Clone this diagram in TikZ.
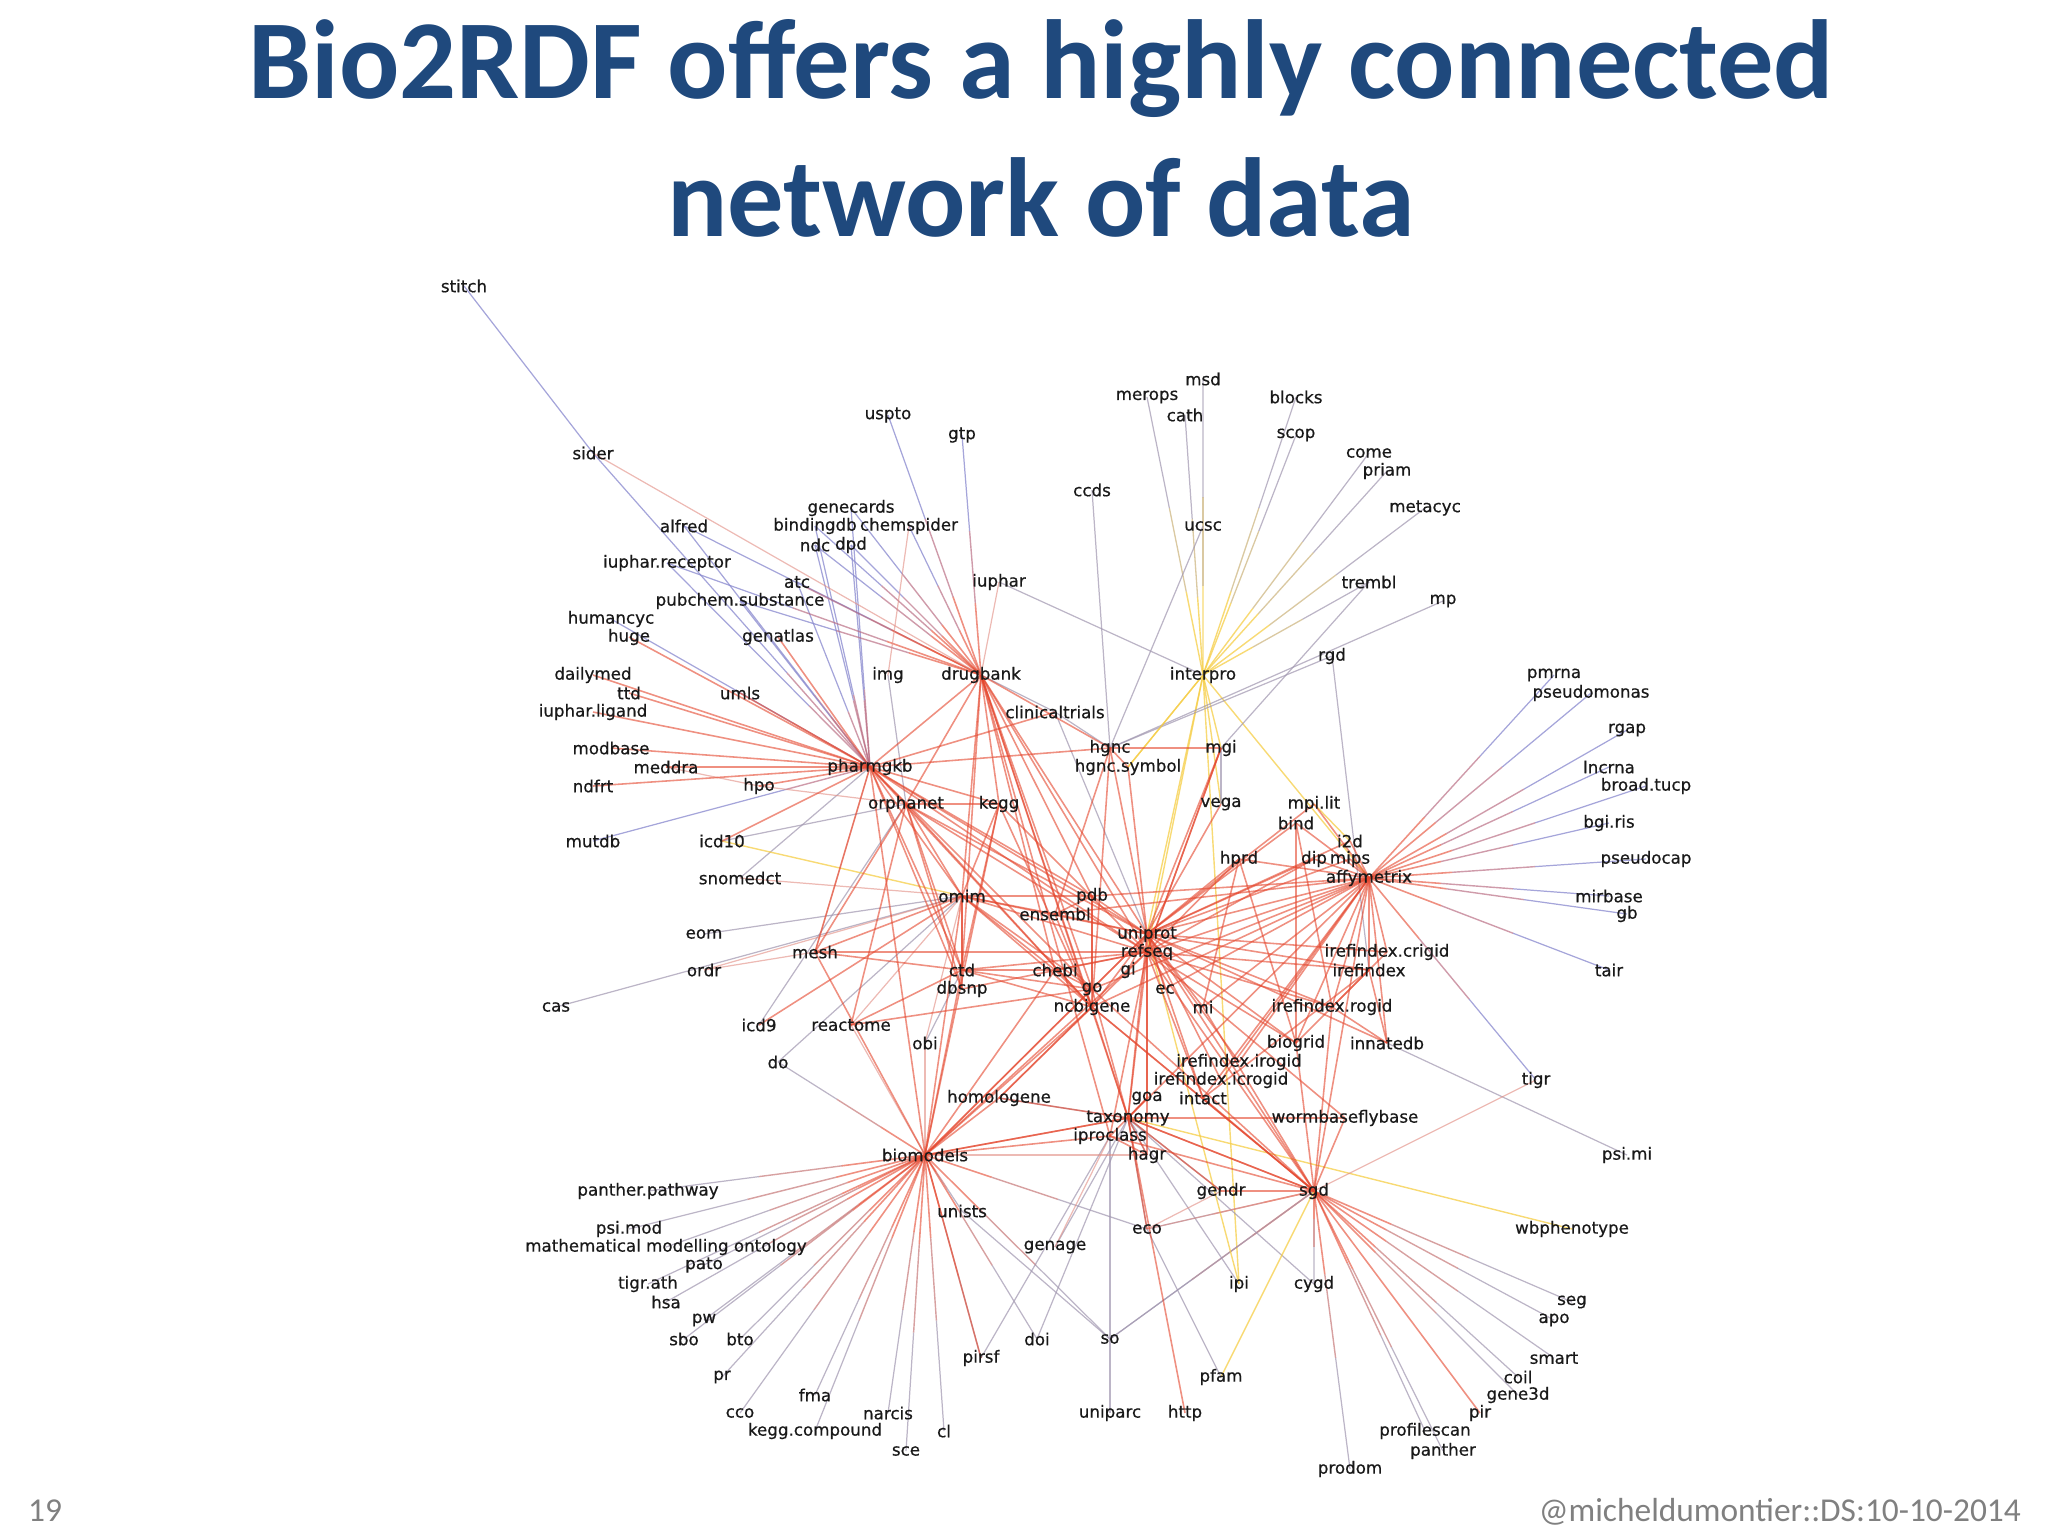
\documentclass[tikz,border=0pt]{standalone}
\usepackage{fontspec}
\newfontfamily\lblfont{DejaVu Sans}[FakeBold=0.6]
\newfontfamily\titlefont{Carlito}
\usetikzlibrary{positioning, calc}
\pgfdeclarelayer{bg}
\pgfsetlayers{bg,main}
\definecolor{titleblue}{RGB}{31,73,125}
\definecolor{edgered}{RGB}{228,70,45}
\definecolor{edgepink}{RGB}{225,140,130}
\definecolor{edgeblue}{RGB}{135,135,205}
\definecolor{edgegray}{RGB}{160,150,175}
\definecolor{edgeyel}{RGB}{245,205,70}
\definecolor{edgeredgray}{RGB}{194,110,110}
\definecolor{edgeredblue}{RGB}{182,102,125}
\definecolor{edgeyelgray}{RGB}{203,178,122}
% hub to leaf, fading from the hub colour to the leaf colour
\newcommand{\hubedge}[5]{%
    \draw[#3] (#1.center) -- ($(#1.center)!0.3!(#2.center)$);
    \draw[#4] ($(#1.center)!0.3!(#2.center)$) -- ($(#1.center)!0.6!(#2.center)$);
    \draw[#5] ($(#1.center)!0.6!(#2.center)$) -- (#2.center);}

\begin{document}
\begin{tikzpicture}[
    x=0.02cm, y=-0.02cm,
    lbl/.style={font=\lblfont\fontsize{9.5}{10}\selectfont, inner sep=0pt, text=black!90},
    redE/.style={draw=edgered, line width=0.9pt, opacity=0.6},
    pinkE/.style={draw=edgepink, line width=0.7pt, opacity=0.6},
    blueE/.style={draw=edgeblue, line width=0.7pt, opacity=0.75},
    grayE/.style={draw=edgegray, line width=0.7pt, opacity=0.7},
    yelE/.style={draw=edgeyel, line width=0.8pt, opacity=0.75},
    redgrayE/.style={draw=edgeredgray, line width=0.8pt, opacity=0.65},
    redblueE/.style={draw=edgeredblue, line width=0.8pt, opacity=0.65},
    yelgrayE/.style={draw=edgeyelgray, line width=0.75pt, opacity=0.7}
]
    \useasboundingbox (0,0) rectangle (2048,1536);

    % title and footer
    \node[font=\titlefont\bfseries\fontsize{64}{70}\selectfont, text=titleblue, anchor=base] (title1) at (1041,98) {Bio2RDF offers a highly connected};
    \node[font=\titlefont\bfseries\fontsize{64}{70}\selectfont, text=titleblue, anchor=base] (title2) at (1041,236) {network of data};
    \node[font=\titlefont\fontsize{19}{21}\selectfont, text=black!50, anchor=base west] (pagenum) at (22,1521) {19};
    \node[font=\titlefont\fontsize{19}{21}\selectfont, text=black!50, anchor=base east] (credit) at (2027,1521) {@micheldumontier::DS:10-10-2014};

    % top left
    \node[lbl] (stitch) at (464,286) {stitch};
    \node[lbl] (sider) at (593,453) {sider};
    \node[lbl] (alfred) at (684,526) {alfred};
    \node[lbl] (genecards) at (851,508) {genecards};
    \node[lbl] (bindingdb) at (815,526) {bindingdb};
    \node[lbl] (chemspider) at (909,526) {chemspider};
    \node[lbl] (ndc) at (815,545) {ndc};
    \node[lbl] (dpd) at (851,545) {dpd};
    \node[lbl] (uspto) at (888,415) {uspto};
    \node[lbl] (gtp) at (962,435) {gtp};
    \node[lbl] (iupharrec) at (667,563) {iuphar.receptor};
    \node[lbl] (atc) at (797,582) {atc};
    \node[lbl] (iuphar) at (999,582) {iuphar};
    \node[lbl] (pubchem) at (740,601) {pubchem.substance};
    \node[lbl] (humancyc) at (611,619) {humancyc};
    \node[lbl] (huge) at (629,637) {huge};
    \node[lbl] (genatlas) at (778,637) {genatlas};
    \node[lbl] (dailymed) at (593,675) {dailymed};
    \node[lbl] (ttd) at (629,693) {ttd};
    \node[lbl] (iupharlig) at (593,712) {iuphar.ligand};
    \node[lbl] (umls) at (740,693) {umls};
    \node[lbl] (img) at (888,675) {img};
    \node[lbl] (drugbank) at (981,675) {drugbank};
    \node[lbl] (clinical) at (1055,712) {clinicaltrials};
    \node[lbl] (modbase) at (611,748) {modbase};
    \node[lbl] (meddra) at (666,767) {meddra};
    \node[lbl] (pharmgkb) at (870,767) {pharmgkb};
    \node[lbl] (ndfrt) at (593,786) {ndfrt};
    \node[lbl] (hpo) at (759,786) {hpo};
    \node[lbl] (mutdb) at (593,841) {mutdb};
    \node[lbl] (icdten) at (722,841) {icd10};
    \node[lbl] (snomedct) at (740,878) {snomedct};
    \node[lbl] (eom) at (704,934) {eom};
    \node[lbl] (mesh) at (815,952) {mesh};
    \node[lbl] (ordr) at (704,970) {ordr};
    \node[lbl] (cas) at (556,1007) {cas};
    \node[lbl] (icdnine) at (759,1025) {icd9};
    \node[lbl] (reactome) at (851,1025) {reactome};
    \node[lbl] (do) at (778,1062) {do};

    % top centre
    \node[lbl] (msd) at (1203,379) {msd};
    \node[lbl] (merops) at (1147,397) {merops};
    \node[lbl] (blocks) at (1296,397) {blocks};
    \node[lbl] (cath) at (1185,415) {cath};
    \node[lbl] (scop) at (1296,435) {scop};
    \node[lbl] (come) at (1369,453) {come};
    \node[lbl] (priam) at (1387,471) {priam};
    \node[lbl] (ccds) at (1092,490) {ccds};
    \node[lbl] (metacyc) at (1425,508) {metacyc};
    \node[lbl] (ucsc) at (1203,526) {ucsc};
    \node[lbl] (trembl) at (1369,582) {trembl};
    \node[lbl] (mp) at (1443,601) {mp};
    \node[lbl] (rgd) at (1332,656) {rgd};
    \node[lbl] (interpro) at (1203,675) {interpro};

    % centre
    \node[lbl] (hgnc) at (1110,748) {hgnc};
    \node[lbl] (hgncsym) at (1128,767) {hgnc.symbol};
    \node[lbl] (mgi) at (1221,748) {mgi};
    \node[lbl] (orphanet) at (906,804) {orphanet};
    \node[lbl] (kegg) at (999,804) {kegg};
    \node[lbl] (vega) at (1221,804) {vega};
    \node[lbl] (mpilit) at (1314,804) {mpi.lit};
    \node[lbl] (bind) at (1296,823) {bind};
    \node[lbl] (itwod) at (1350,841) {i2d};
    \node[lbl] (hprd) at (1239,859) {hprd};
    \node[lbl] (dip) at (1314,859) {dip};
    \node[lbl] (mips) at (1350,859) {mips};
    \node[lbl] (affy) at (1369,878) {affymetrix};
    \node[lbl] (omim) at (962,896) {omim};
    \node[lbl] (pdb) at (1092,896) {pdb};
    \node[lbl] (ensembl) at (1055,914) {ensembl};
    \node[lbl] (uniprot) at (1147,934) {uniprot};
    \node[lbl] (refseq) at (1147,952) {refseq};
    \node[lbl] (refcrigid) at (1387,952) {irefindex.crigid};
    \node[lbl] (irefindex) at (1369,970) {irefindex};
    \node[lbl] (ctd) at (962,970) {ctd};
    \node[lbl] (chebi) at (1055,970) {chebi};
    \node[lbl] (gi) at (1128,970) {gi};
    \node[lbl] (go) at (1092,989) {go};
    \node[lbl] (ec) at (1165,989) {ec};
    \node[lbl] (dbsnp) at (962,989) {dbsnp};
    \node[lbl] (ncbigene) at (1092,1007) {ncbigene};
    \node[lbl] (mi) at (1203,1007) {mi};
    \node[lbl] (refrogid) at (1332,1007) {irefindex.rogid};
    \node[lbl] (obi) at (925,1043) {obi};
    \node[lbl] (biogrid) at (1296,1043) {biogrid};
    \node[lbl] (innatedb) at (1387,1043) {innatedb};
    \node[lbl] (refirogid) at (1239,1062) {irefindex.irogid};
    \node[lbl] (reficrogid) at (1221,1080) {irefindex.icrogid};
    \node[lbl] (homologene) at (999,1098) {homologene};
    \node[lbl] (goa) at (1147,1098) {goa};
    \node[lbl] (intact) at (1203,1098) {intact};
    \node[lbl] (taxonomy) at (1128,1118) {taxonomy};
    \node[lbl] (wormfly) at (1345,1118) {wormbaseflybase};
    \node[lbl] (iproclass) at (1110,1136) {iproclass};
    \node[lbl] (biomodels) at (925,1155) {biomodels};
    \node[lbl] (hagr) at (1147,1155) {hagr};

    % right
    \node[lbl] (pmrna) at (1554,675) {pmrna};
    \node[lbl] (pseudomonas) at (1591,693) {pseudomonas};
    \node[lbl] (rgap) at (1627,730) {rgap};
    \node[lbl] (lncrna) at (1609,767) {lncrna};
    \node[lbl] (broadtucp) at (1646,786) {broad.tucp};
    \node[lbl] (bgiris) at (1609,823) {bgi.ris};
    \node[lbl] (pseudocap) at (1646,859) {pseudocap};
    \node[lbl] (mirbase) at (1609,896) {mirbase};
    \node[lbl] (gb) at (1627,914) {gb};
    \node[lbl] (tair) at (1609,970) {tair};
    \node[lbl] (tigr) at (1536,1080) {tigr};
    \node[lbl] (psimi) at (1627,1155) {psi.mi};
    \node[lbl] (wbpheno) at (1572,1229) {wbphenotype};

    % bottom
    \node[lbl] (pantherpw) at (648,1191) {panther.pathway};
    \node[lbl] (gendr) at (1221,1191) {gendr};
    \node[lbl] (sgd) at (1314,1191) {sgd};
    \node[lbl] (unists) at (962,1211) {unists};
    \node[lbl] (psimod) at (629,1229) {psi.mod};
    \node[lbl] (eco) at (1147,1229) {eco};
    \node[lbl] (mmo) at (666,1247) {mathematical modelling ontology};
    \node[lbl] (genage) at (1055,1247) {genage};
    \node[lbl] (pato) at (704,1265) {pato};
    \node[lbl] (tigrath) at (648,1284) {tigr.ath};
    \node[lbl] (ipi) at (1239,1284) {ipi};
    \node[lbl] (cygd) at (1314,1284) {cygd};
    \node[lbl] (hsa) at (666,1302) {hsa};
    \node[lbl] (seg) at (1572,1302) {seg};
    \node[lbl] (pw) at (704,1320) {pw};
    \node[lbl] (apo) at (1554,1320) {apo};
    \node[lbl] (sbo) at (684,1339) {sbo};
    \node[lbl] (bto) at (740,1339) {bto};
    \node[lbl] (doi) at (1037,1339) {doi};
    \node[lbl] (so) at (1110,1339) {so};
    \node[lbl] (pirsf) at (981,1358) {pirsf};
    \node[lbl] (smart) at (1554,1358) {smart};
    \node[lbl] (pr) at (722,1377) {pr};
    \node[lbl] (pfam) at (1221,1377) {pfam};
    \node[lbl] (coil) at (1518,1377) {coil};
    \node[lbl] (fma) at (815,1395) {fma};
    \node[lbl] (genethreed) at (1518,1395) {gene3d};
    \node[lbl] (cco) at (740,1413) {cco};
    \node[lbl] (narcis) at (888,1413) {narcis};
    \node[lbl] (uniparc) at (1110,1413) {uniparc};
    \node[lbl] (http) at (1185,1413) {http};
    \node[lbl] (pir) at (1480,1413) {pir};
    \node[lbl] (keggcpd) at (815,1431) {kegg.compound};
    \node[lbl] (cl) at (944,1431) {cl};
    \node[lbl] (profilescan) at (1425,1431) {profilescan};
    \node[lbl] (sce) at (906,1451) {sce};
    \node[lbl] (panther) at (1443,1451) {panther};
    \node[lbl] (prodom) at (1350,1469) {prodom};

    \begin{pgfonlayer}{bg}
    % light edges
    \draw[blueE] (stitch.center) -- (sider.center);
    \foreach \t in {sider,alfred,iupharrec,pubchem,atc,ndc,bindingdb,genecards,dpd,mutdb,humancyc}
        {\hubedge{pharmgkb}{\t}{redblueE}{blueE}{blueE}}
    \foreach \t in {uspto,gtp,genecards,bindingdb,chemspider,ndc,dpd,atc,pubchem,iupharrec,alfred}
        {\hubedge{drugbank}{\t}{redE}{redblueE}{blueE}}
    \foreach \t in {msd,merops,cath,blocks,scop,come,priam,metacyc,trembl}
        {\hubedge{interpro}{\t}{yelE}{yelgrayE}{grayE}}
    \foreach \t in {uniprot,refseq,hgncsym,ipi,vega,mgi,affy}
        \draw[yelE] (interpro.center) -- (\t.center);
    \foreach \t in {pmrna,pseudomonas,rgap,lncrna,broadtucp,bgiris,pseudocap,mirbase,gb,tair,tigr}
        {\hubedge{affy}{\t}{redE}{redblueE}{blueE}}
    \foreach \t in {pantherpw,psimod,mmo,pato,tigrath,hsa,pw,sbo,bto,pr,fma,cco,keggcpd,narcis,sce,cl,pirsf,doi,unists,so,do,eco}
        {\hubedge{biomodels}{\t}{redE}{redgrayE}{grayE}}
    \foreach \t in {seg,apo,smart,coil,genethreed,profilescan,panther,prodom,cygd,so,eco}
        {\hubedge{sgd}{\t}{redE}{redgrayE}{grayE}}
    \foreach \a/\b in {ccds/hgnc,ucsc/hgnc,iuphar/interpro,rgd/hgnc,rgd/irefindex,mp/hgnc,trembl/mgi,
        cas/omim,eom/omim,icdnine/orphanet,do/omim,snomedct/pharmgkb,icdten/orphanet,img/orphanet,
        clinical/drugbank,clinical/uniprot,mgi/vega,psimi/innatedb,pfam/eco,uniparc/iproclass,
        genage/taxonomy,doi/taxonomy,pirsf/iproclass,cygd/taxonomy,unists/so,so/sgd,hgnc/clinical,
        obi/ctd,homologene/taxonomy,hagr/taxonomy,gendr/taxonomy,ipi/taxonomy,eco/taxonomy}
        \draw[grayE] (\a.center) -- (\b.center);
    \foreach \a/\b in {pfam/sgd,wbpheno/taxonomy,mpilit/itwod,icdten/omim,ipi/uniprot,hgncsym/interpro}
        \draw[yelE] (\a.center) -- (\b.center);
    \foreach \a/\b in {sider/drugbank,eco/gendr,ordr/omim,ordr/mesh,hpo/orphanet,meddra/hpo,
        snomedct/omim,reactome/omim,reactome/biomodels,obi/biomodels,obi/omim,genage/iproclass,
        tigr/sgd,hagr/biomodels,eco/sgd,chemspider/img,iuphar/drugbank,mesh/pharmgkb}
        \draw[pinkE] (\a.center) -- (\b.center);

    % strong edges
    \foreach \t in {dailymed,ttd,iupharlig,modbase,meddra,ndfrt,umls,huge,genatlas,drugbank,orphanet,
        omim,ctd,kegg,hgnc,uniprot,refseq,pdb,mesh,dbsnp,go,ncbigene,biomodels,icdten,clinical,hpo}
        \draw[redE] (pharmgkb.center) -- (\t.center);
    \foreach \t in {kegg,ctd,omim,uniprot,refseq,pdb,go,ncbigene,taxonomy,chebi,orphanet,iproclass,hgnc}
        \draw[redE] (drugbank.center) -- (\t.center);
    \foreach \t in {hprd,bind,dip,mips,itwod,mpilit,affy,refcrigid,irefindex,refrogid,biogrid,innatedb,
        refirogid,reficrogid,intact,mi,mgi,vega,hgnc,hgncsym,pdb,ensembl,go,ncbigene,ec,gi,goa,taxonomy}
        \draw[redE] (uniprot.center) -- (\t.center);
    \foreach \t in {iproclass,chebi,omim,kegg,orphanet,ctd,sgd,wormfly,biomodels,homologene,hagr,mesh,
        dbsnp,mgi,hprd,dip,affy,irefindex,refrogid,biogrid,intact,taxonomy}
        \draw[redE] (refseq.center) -- (\t.center);
    \foreach \t in {dip,mips,itwod,bind,mpilit,hprd,irefindex,refcrigid,refrogid,innatedb,biogrid,
        ncbigene,go,ec,mi,taxonomy,sgd,ensembl,pdb,refirogid,reficrogid,intact}
        \draw[redE] (affy.center) -- (\t.center);
    \foreach \a/\b in {irefindex/refrogid,refcrigid/biogrid,intact/irefindex,biogrid/bind,hprd/biogrid,
        refrogid/innatedb,irefindex/innatedb,bind/refrogid,hprd/mi,mgi/refseq}
        \draw[redE] (\a.center) -- (\b.center);
    \foreach \t in {taxonomy,biomodels,homologene,omim,pdb,sgd,hgnc,ensembl,kegg,orphanet,ctd,chebi}
        \draw[redE] (ncbigene.center) -- (\t.center);
    \foreach \t in {taxonomy,chebi,pdb,sgd,reactome,biomodels,omim,ctd}
        \draw[redE] (go.center) -- (\t.center);
    \foreach \t in {biomodels,homologene,sgd,http,hagr,gendr,wormfly,goa,eco}
        \draw[redE] (taxonomy.center) -- (\t.center);
    \foreach \t in {taxonomy,iproclass,uniprot,chebi,ctd,omim,kegg,homologene,mesh,pirsf}
        \draw[redE] (biomodels.center) -- (\t.center);
    \foreach \t in {pir,taxonomy,iproclass,ncbigene,uniprot,mi,intact,biogrid,refrogid,wormfly,gendr}
        \draw[redE] (sgd.center) -- (\t.center);
    \foreach \t in {orphanet,ctd,dbsnp,mesh,kegg,uniprot,ensembl,pdb,chebi,icdnine}
        \draw[redE] (omim.center) -- (\t.center);
    \foreach \t in {ctd,dbsnp,mesh,reactome,uniprot,kegg}
        \draw[redE] (orphanet.center) -- (\t.center);
    \foreach \a/\b in {mesh/ctd,ctd/chebi,ctd/kegg,reactome/ctd,pdb/ensembl,hgnc/mgi,hgnc/hgncsym,
        ensembl/hgnc,iproclass/hagr,goa/iproclass}
        \draw[redE] (\a.center) -- (\b.center);
    \end{pgfonlayer}
\end{tikzpicture}
\end{document}
